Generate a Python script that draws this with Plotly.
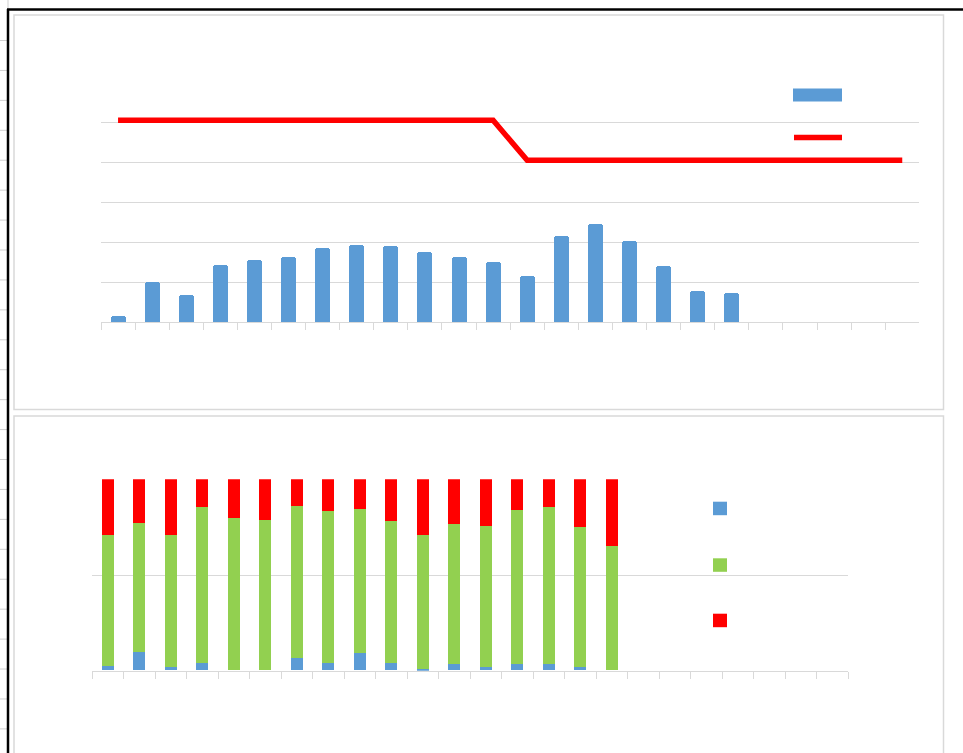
import plotly.graph_objects as go

W, H = 963, 753

# ---------------- data ----------------
categories = [str(i) for i in range(1, 25)]

# top chart: column series (19 filled categories of 24) and step line
top_bars = [0.15, 0.99, 0.68, 1.42, 1.54, 1.62, 1.84, 1.93, 1.89, 1.74,
            1.62, 1.51, 1.16, 2.16, 2.46, 2.03, 1.41, 0.78, 0.73,
            None, None, None, None, None]
top_line = [5.05] * 12 + [4.05] * 12

# bottom chart: 100% stacked columns (17 filled categories of 24)
share_blue = [2.4, 9.6, 1.7, 4.0, 0.0, 0.0, 6.4, 4.0, 8.9, 4.1,
              0.9, 3.5, 1.7, 3.4, 3.3, 1.6, 0.0]
share_green = [68.2, 67.4, 68.9, 81.2, 79.6, 78.6, 79.5, 79.4, 75.4, 74.0,
               69.9, 73.1, 74.0, 80.4, 82.0, 73.4, 65.2]
share_red = [29.4, 23.0, 29.4, 14.8, 20.4, 21.4, 14.1, 16.6, 15.7, 21.9,
             29.2, 23.4, 24.3, 16.2, 14.7, 25.0, 34.8]
bottom_cats = categories[:len(share_blue)]

# ---------------- styling ----------------
BLUE = "#5B9BD5"
GREEN = "#92D050"
RED = "#FF0000"
GRID = "#D9D9D9"


def px(x):
    return x / W


def py(y):
    return 1 - y / H


fig = go.Figure()

fig.add_trace(go.Bar(x=categories, y=top_bars, xaxis="x", yaxis="y",
                     marker=dict(color=BLUE, cornerradius=2, line=dict(width=0)),
                     width=0.44))
fig.add_trace(go.Scatter(x=categories, y=top_line, xaxis="x", yaxis="y",
                         mode="lines", line=dict(color=RED, width=5.5)))

for vals, col in ((share_blue, BLUE), (share_green, GREEN), (share_red, RED)):
    fig.add_trace(go.Bar(x=bottom_cats, y=vals, xaxis="x2", yaxis="y2",
                         marker=dict(color=col, line=dict(width=0)), width=0.38))

axis_common = dict(type="category", categoryorder="array", categoryarray=categories,
                   range=[-0.5, 23.5], showticklabels=False, showgrid=False,
                   zeroline=False, showline=True, linecolor=GRID, linewidth=1,
                   ticks="outside", tickson="boundaries", ticklen=7,
                   tickcolor=GRID, tickwidth=1, fixedrange=True)

shapes = []
# worksheet row lines at the far left
for k in range(24):
    yy = 40.5 + 29.93 * k
    shapes.append(dict(type="line", xref="paper", yref="paper",
                       x0=px(0), x1=px(7), y0=py(yy), y1=py(yy),
                       line=dict(color="#CFCFCF", width=1)))
# column separator above the frame
shapes.append(dict(type="line", xref="paper", yref="paper", x0=px(8), x1=px(8),
                   y0=py(0), y1=py(9), line=dict(color="#CFCFCF", width=1)))
# chart panels
shapes.append(dict(type="rect", xref="paper", yref="paper",
                   x0=px(14), x1=px(943.5), y0=py(409.5), y1=py(15),
                   line=dict(color=GRID, width=1.5)))
shapes.append(dict(type="rect", xref="paper", yref="paper",
                   x0=px(14), x1=px(943.5), y0=py(760), y1=py(416),
                   line=dict(color=GRID, width=1.5)))
# black frame (left and top)
shapes.append(dict(type="line", xref="paper", yref="paper", x0=px(8), x1=px(8),
                   y0=py(9), y1=py(760), line=dict(color="black", width=2.5)))
shapes.append(dict(type="line", xref="paper", yref="paper", x0=px(7), x1=px(970),
                   y0=py(9.5), y1=py(9.5), line=dict(color="black", width=2.5)))
# top legend keys
shapes.append(dict(type="rect", xref="paper", yref="paper",
                   x0=px(793), x1=px(842), y0=py(101.5), y1=py(88.5),
                   fillcolor=BLUE, line=dict(width=0)))
shapes.append(dict(type="line", xref="paper", yref="paper",
                   x0=px(794), x1=px(842), y0=py(137.5), y1=py(137.5),
                   line=dict(color=RED, width=5.5)))
# bottom legend keys
for y0, col in ((501.7, BLUE), (558.3, GREEN), (613.7, RED)):
    shapes.append(dict(type="rect", xref="paper", yref="paper",
                       x0=px(713), x1=px(727), y0=py(y0 + 13.5), y1=py(y0),
                       fillcolor=col, line=dict(width=0)))

fig.update_layout(
    width=W, height=H,
    margin=dict(l=0, r=0, t=0, b=0),
    paper_bgcolor="white", plot_bgcolor="rgba(0,0,0,0)",
    showlegend=False, barmode="stack", bargap=0,
    xaxis=dict(domain=[px(101), px(919.3)], anchor="y", **axis_common),
    yaxis=dict(domain=[py(322.3), py(82.3)], anchor="x", range=[0, 6], dtick=1,
               showticklabels=False, showgrid=True, gridcolor=GRID, gridwidth=1,
               zeroline=False, showline=False, fixedrange=True),
    xaxis2=dict(domain=[px(92), px(848)], anchor="y2", **axis_common),
    yaxis2=dict(domain=[py(670.7), py(479.3)], anchor="x2", range=[0, 100], dtick=50,
                showticklabels=False, showgrid=True, gridcolor=GRID, gridwidth=1,
                zeroline=False, showline=False, fixedrange=True),
    shapes=shapes,
)

fig.write_html("out.html", config={"displayModeBar": False},
               post_script="document.body.style.margin='0';")
